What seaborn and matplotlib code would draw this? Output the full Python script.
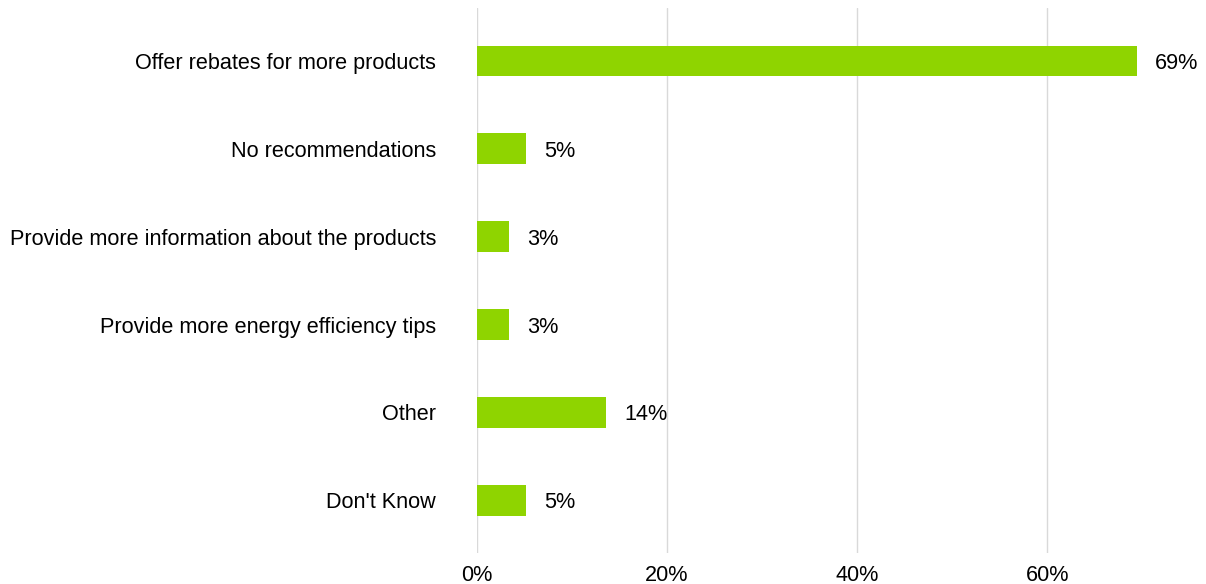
import matplotlib
matplotlib.use("Agg")
import matplotlib.pyplot as plt
import seaborn as sns
import pandas as pd
from matplotlib.ticker import FuncFormatter

categories = ["Offer rebates for more products", "No recommendations",
              "Provide more information about the products",
              "Provide more energy efficiency tips", "Other", "Don't Know"]
values = [69.4, 5.2, 3.4, 3.4, 13.6, 5.2]
labels = ["69%", "5%", "3%", "3%", "14%", "5%"]
xticks = [0, 20, 40, 60]

sns.set_theme(style="white")
plt.rcParams['font.family'] = ['Liberation Sans', 'DejaVu Sans']

df = pd.DataFrame({"cat": categories, "val": values})
fig = plt.figure(figsize=(12.06, 5.84), dpi=100)
ax = fig.add_axes([0.3955, 0.053, 0.6045, 0.933])
sns.barplot(data=df, x="val", y="cat", color="#8fd400", saturation=1,
            width=0.35, ax=ax, zorder=3)
for p in ax.patches:
    p.set_edgecolor("none")
for i, (v, lab) in enumerate(zip(values, labels)):
    ax.annotate(lab, (v, i), xytext=(13, 0), textcoords="offset points",
                va="center_baseline", ha="left", fontsize=15.6, color="#000000")
ax.set_xlim(0, 76.7)
ax.set_ylim(5.6, -0.6)
ax.set_xticks(xticks)
ax.xaxis.set_major_formatter(FuncFormatter(lambda x, p: f"{x:.0f}%"))
ax.grid(axis="x", color="#d9d9d9", linewidth=1, zorder=0)
ax.grid(axis="y", visible=False)
for s in ax.spines.values():
    s.set_visible(False)
ax.tick_params(axis="both", length=0, labelsize=15.6, colors="#000000")
ax.tick_params(axis="y", pad=29.5)
ax.tick_params(axis="x", pad=8.5)
ax.set_xlabel("")
ax.set_ylabel("")
fig.savefig("out.png", dpi=100)
